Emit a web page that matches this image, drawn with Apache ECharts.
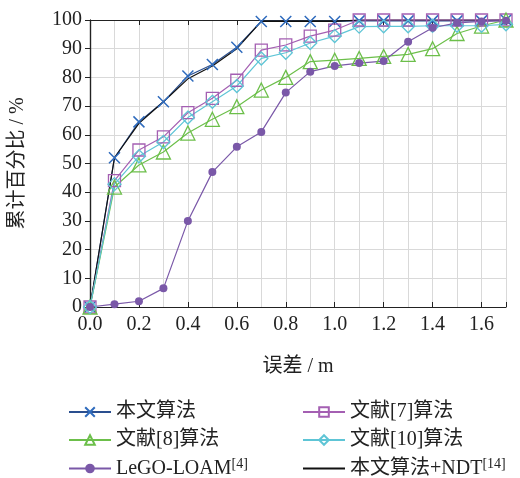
<!DOCTYPE html>
<html>
<head>
<meta charset="utf-8">
<script src="https://cdn.jsdelivr.net/npm/echarts@6/dist/echarts.min.js"></script>
<style>
  html, body { margin: 0; padding: 0; background: #fff; }
  #chart { width: 520px; height: 478px; }
</style>
</head>
<body>
<div id="chart"></div>
<script>
  // 误差 (m)
  var errors = [0, 0.1, 0.2, 0.3, 0.4, 0.5, 0.6, 0.7, 0.8, 0.9, 1.0, 1.1, 1.2, 1.3, 1.4, 1.5, 1.6, 1.7];
  // 累计百分比 (%)
  var ours   = [0, 52, 64.5, 71.5, 80.5, 84.5, 90.5, 99.5, 99.5, 99.5, 99.5, 99.7, 99.7, 99.7, 99.7, 99.7, 99.7, 100];
  var ref7   = [0, 44, 54.7, 59.3, 67.7, 72.7, 79, 89.5, 91.3, 94.4, 96.5, 100, 100, 100, 100, 100, 100, 100];
  var ref8   = [0, 41.8, 49.5, 54, 60.6, 65.4, 69.8, 75.6, 80, 85.5, 86, 86.6, 87.3, 88, 90, 95.3, 97.9, 100];
  var ref10  = [0, 42.8, 52.5, 57.5, 66, 71.5, 77, 86.6, 88.6, 92, 94.4, 97.7, 97.8, 97.8, 98, 98, 98, 98.5];
  var lego   = [0, 1, 2, 6.5, 30, 47, 55.8, 61, 74.7, 82, 84, 85, 85.7, 92.4, 97.3, 99, 99.5, 99.7];
  var oursNdt = [0, 52, 64, 71.5, 79.5, 84, 90, 99.5, 99.5, 99.5, 99.5, 100, 100, 100, 100, 100, 100, 100];

  function pairs(vals) {
    return errors.map(function (x, i) { return [x, vals[i]]; });
  }

  var serif = '"Liberation Serif", "Times New Roman", "Noto Sans CJK SC", serif';

  function lineSeries(name, vals, color, symbol, size, hollow) {
    return {
      name: name,
      type: 'line',
      data: pairs(vals),
      symbol: symbol,
      symbolSize: size,
      clip: false,
      lineStyle: {color: color, width: 1.2},
      itemStyle: hollow
        ? {color: 'rgba(255,255,255,0)', borderColor: color, borderWidth: 1.3}
        : {color: color},
      emphasis: {disabled: true}
    };
  }

  var xSeries = lineSeries('本文算法', ours, '#2a4f8f', 'path://M0,0L10,10M10,0L0,10', 11, true);
  xSeries.itemStyle = {color: 'rgba(0,0,0,0)', borderColor: '#2f6bbd', borderWidth: 1.5};

  // 无标记的黑线，图例里只留线
  var ndtSeries = lineSeries('本文算法+NDT[14]', oursNdt, '#111111', 'none', 0, false);
  ndtSeries.itemStyle = {color: 'rgba(0,0,0,0)'};

  var legendText = {
    color: '#222', fontSize: 20, fontFamily: serif, lineHeight: 22,
    rich: {s: {fontSize: 14, fontFamily: serif, color: '#222', lineHeight: 22, padding: [0, 0, 9, 0]}}
  };

  var chart = echarts.init(document.getElementById('chart'));
  chart.setOption({
    animation: false,
    textStyle: {fontFamily: serif},
    grid: {left: 90, right: 14, top: 20, bottom: 171},
    xAxis: [
      {
        type: 'value', position: 'bottom', min: 0, max: 1.7, interval: 0.2,
        axisLine: {show: true, lineStyle: {color: '#222', width: 1.2}},
        axisTick: {show: true, inside: true, length: 5, lineStyle: {color: '#222'}},
        axisLabel: {
          color: '#222', fontSize: 20, fontFamily: serif, margin: 8,
          formatter: function (v) { return v > 1.65 ? '' : v.toFixed(1); }
        },
        splitLine: {show: false},
        name: '误差 / m', nameLocation: 'middle', nameGap: 50,
        nameTextStyle: {color: '#222', fontSize: 20, fontFamily: serif}
      },
      {
        type: 'value', position: 'bottom', min: 0, max: 1.7, interval: 0.1,
        axisLine: {show: false}, axisTick: {show: false}, axisLabel: {show: false},
        splitLine: {show: true, lineStyle: {color: '#d9d9d9', width: 1}}
      },
      {
        type: 'value', position: 'top', min: 0, max: 1.7, interval: 0.2,
        axisLine: {show: true, lineStyle: {color: '#222', width: 1.2}},
        axisTick: {show: true, inside: true, length: 5, lineStyle: {color: '#222'}},
        axisLabel: {show: false}, splitLine: {show: false}
      }
    ],
    yAxis: [
      {
        type: 'value', position: 'left', min: 0, max: 100, interval: 10,
        axisLine: {show: true, lineStyle: {color: '#222', width: 1.2}},
        axisTick: {show: false},
        axisLabel: {color: '#222', fontSize: 20, fontFamily: serif, margin: 8},
        splitLine: {show: true, lineStyle: {color: '#d9d9d9', width: 1}},
        name: '累计百分比 / %', nameLocation: 'middle', nameGap: 62, nameRotate: 90,
        nameTextStyle: {color: '#222', fontSize: 20, fontFamily: serif}
      },
      {
        type: 'value', position: 'right', min: 0, max: 100, interval: 10,
        axisLine: {show: true, lineStyle: {color: '#222', width: 1.2}},
        axisTick: {show: true, inside: true, length: 5, lineStyle: {color: '#222'}},
        axisLabel: {show: false}, splitLine: {show: false}
      }
    ],
    legend: [
      {
        orient: 'vertical', left: 63, top: 396, height: 82, itemWidth: 42, itemHeight: 12, itemGap: 6,
        data: ['本文算法', '文献[8]算法', 'LeGO-LOAM[4]'],
        textStyle: legendText,
        formatter: function (n) { return n === 'LeGO-LOAM[4]' ? 'LeGO-LOAM{s|[4]}' : n; }
      },
      {
        orient: 'vertical', left: 297, top: 396, height: 82, itemWidth: 42, itemHeight: 12, itemGap: 6,
        data: ['文献[7]算法', '文献[10]算法', '本文算法+NDT[14]'],
        textStyle: legendText,
        formatter: function (n) { return n === '本文算法+NDT[14]' ? '本文算法+NDT{s|[14]}' : n; }
      }
    ],
    series: [
      xSeries,
      ndtSeries,
      lineSeries('文献[7]算法', ref7, '#a45fb2', 'rect', 12, true),
      lineSeries('文献[8]算法', ref8, '#6cbf4a', 'triangle', 14, true),
      lineSeries('文献[10]算法', ref10, '#5ec5d6', 'diamond', 13, true),
      lineSeries('LeGO-LOAM[4]', lego, '#7a58a8', 'circle', 8, false)
    ]
  });
</script>
</body>
</html>
